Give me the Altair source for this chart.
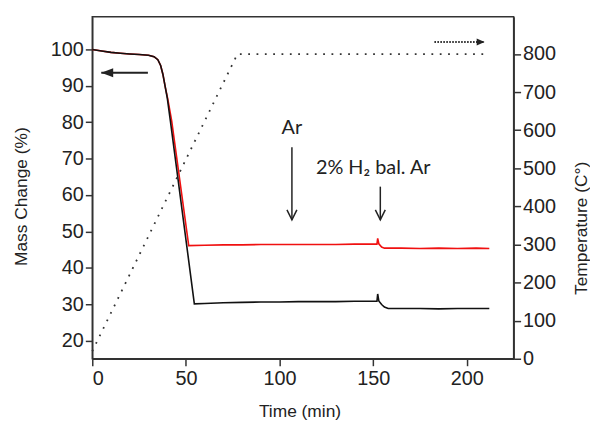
import altair as alt
import pandas as pd

# ---- data ----
black_t = [0, 5, 10, 15, 20, 25, 30, 33, 35, 36.5, 37.7, 39, 40, 41.7, 54.5,
           60, 70, 80, 90, 100, 110, 120, 130, 140, 150, 152, 152.4, 153,
           154.5, 156, 158, 165, 175, 185, 195, 205, 212]
black_m = [100, 99.6, 99.2, 98.95, 98.75, 98.6, 98.4, 98.0, 97.2, 95.6, 93.2, 89.6, 86.8, 80.4, 30.1,
           30.2, 30.4, 30.5, 30.6, 30.6, 30.7, 30.7, 30.7, 30.8, 30.8, 30.8, 32.8, 30.9,
           29.9, 29.2, 28.8, 28.8, 28.8, 28.7, 28.8, 28.8, 28.8]

red_t = [0, 5, 10, 15, 20, 25, 30, 33, 35, 36.5, 37.7, 39, 40.3, 42.4, 51.5,
         60, 70, 80, 90, 100, 110, 120, 130, 140, 150, 152, 152.4, 153,
         154.5, 156, 165, 175, 185, 195, 205, 212]
red_m = [100, 99.6, 99.2, 98.95, 98.75, 98.6, 98.4, 98.0, 97.2, 95.6, 93.2, 89.6, 86.4, 80.4, 46.1,
         46.2, 46.3, 46.3, 46.4, 46.4, 46.4, 46.4, 46.4, 46.5, 46.5, 46.5, 48.1, 46.6,
         45.7, 45.4, 45.4, 45.3, 45.4, 45.3, 45.4, 45.3]

temp_t = [0, 77.5, 211]
temp_c = [20, 800, 800]

x_ticks = [0, 50, 100, 150, 200]
mass_ticks = [20, 30, 40, 50, 60, 70, 80, 90, 100]
temp_ticks = [0, 100, 200, 300, 400, 500, 600, 700, 800]

# annotations (data coordinates)
left_arrow = {"x": [29.7], "x2": [4.8], "y": [93.6]}
down_arrows = {"x": [106.6, 153.8], "y": [73.1, 62.3], "y2": [53.2, 53.2]}
labels = {"x": [106.6, 150.0], "y": [78.5, 67.3], "text": ["Ar", "2% H\u2082 bal. Ar"]}
temp_arrow = {"x": [182.7], "x2": [209.5], "y": [831.5]}

FONT = "Liberation Sans"
INK = "#222222"

xs = alt.Scale(domain=[0, 225], nice=False)
ysL = alt.Scale(domain=[15, 109], nice=False)
ysR = alt.Scale(domain=[0, 898], nice=False)

x_axis = alt.Axis(values=x_ticks, title="Time (min)", titlePadding=14, titleX=209)
yL_axis = alt.Axis(values=mass_ticks, title="Mass Change (%)", titlePadding=20, titleY=181)
yR_axis = alt.Axis(values=temp_ticks, title="Temperature (C\u00b0)", orient="right",
                   titlePadding=17, titleAngle=270, titleBaseline="top", titleY=213)

black_df = pd.DataFrame({"t": black_t, "m": black_m})
red_df = pd.DataFrame({"t": red_t, "m": red_m})
temp_df = pd.DataFrame({"t": temp_t, "c": temp_c})

red_line = alt.Chart(red_df).mark_line(color="#f01010", strokeWidth=1.6).encode(
    x=alt.X("t:Q", scale=xs, axis=x_axis),
    y=alt.Y("m:Q", scale=ysL, axis=yL_axis),
)
black_line = alt.Chart(black_df).mark_line(color="#111111", strokeWidth=1.6).encode(
    x=alt.X("t:Q", scale=xs),
    y=alt.Y("m:Q", scale=ysL),
)

la = pd.DataFrame(left_arrow)
la_rule = alt.Chart(la).mark_rule(color=INK, strokeWidth=2).encode(
    x=alt.X("x:Q", scale=xs), x2="x2:Q", y=alt.Y("y:Q", scale=ysL))
la_head = alt.Chart(la).mark_point(shape="M0,0 L1,-0.38 L1,0.38 Z", size=576, filled=True,
                                   color=INK, opacity=1).encode(
    x=alt.X("x2:Q", scale=xs), y=alt.Y("y:Q", scale=ysL))

da = pd.DataFrame(down_arrows)
da_rule = alt.Chart(da).mark_rule(color=INK, strokeWidth=1.5).encode(
    x=alt.X("x:Q", scale=xs), y=alt.Y("y:Q", scale=ysL), y2="y2:Q")
da_head = alt.Chart(da).mark_point(shape="M-0.5,-1 L0,0 L0.5,-1", size=400, filled=False,
                                   color=INK, strokeWidth=1.5, opacity=1).encode(
    x=alt.X("x:Q", scale=xs), y=alt.Y("y2:Q", scale=ysL))

lab = pd.DataFrame(labels)
lab_text = alt.Chart(lab).mark_text(font="Lato", fontSize=20, color=INK, align="center",
                                    baseline="middle").encode(
    x=alt.X("x:Q", scale=xs), y=alt.Y("y:Q", scale=ysL), text="text:N")

left_layer = alt.layer(red_line, black_line, la_rule, la_head, da_rule, da_head, lab_text)

temp_line = alt.Chart(temp_df).mark_line(color="#333333", strokeWidth=1.8,
                                         strokeDash=[1.8, 6.6]).encode(
    x=alt.X("t:Q", scale=xs),
    y=alt.Y("c:Q", scale=ysR, axis=yR_axis),
)
ta = pd.DataFrame(temp_arrow)
ta_rule = alt.Chart(ta).mark_rule(color=INK, strokeWidth=2, strokeDash=[1.5, 1.5]).encode(
    x=alt.X("x:Q", scale=xs), x2="x2:Q", y=alt.Y("y:Q", scale=ysR))
ta_head = alt.Chart(ta).mark_point(shape="M0,0 L-1,-0.45 L-1,0.45 Z", size=256, filled=True,
                                   color=INK, opacity=1).encode(
    x=alt.X("x2:Q", scale=xs), y=alt.Y("y:Q", scale=ysR))

right_layer = alt.layer(temp_line, ta_rule, ta_head)

chart = (
    alt.layer(left_layer, right_layer)
    .resolve_scale(y="independent")
    .properties(width=425, height=345,
                padding={"left": 4, "top": 7, "right": 0, "bottom": 0})
    .configure_view(stroke="#333333", strokeWidth=1.5)
    .configure_axis(
        labelFont=FONT, titleFont=FONT, labelFontSize=20, titleFontSize=17.5,
        titleFontWeight="normal", labelColor=INK, titleColor=INK,
        domainColor="#333333", tickColor="#333333", domainWidth=1.5, tickWidth=1.5,
        tickSize=7, labelPadding=2, grid=False,
    )
    .configure_axisX(labelPadding=3)
)

chart.save("out.html", embed_options={"renderer": "svg", "actions": False})
